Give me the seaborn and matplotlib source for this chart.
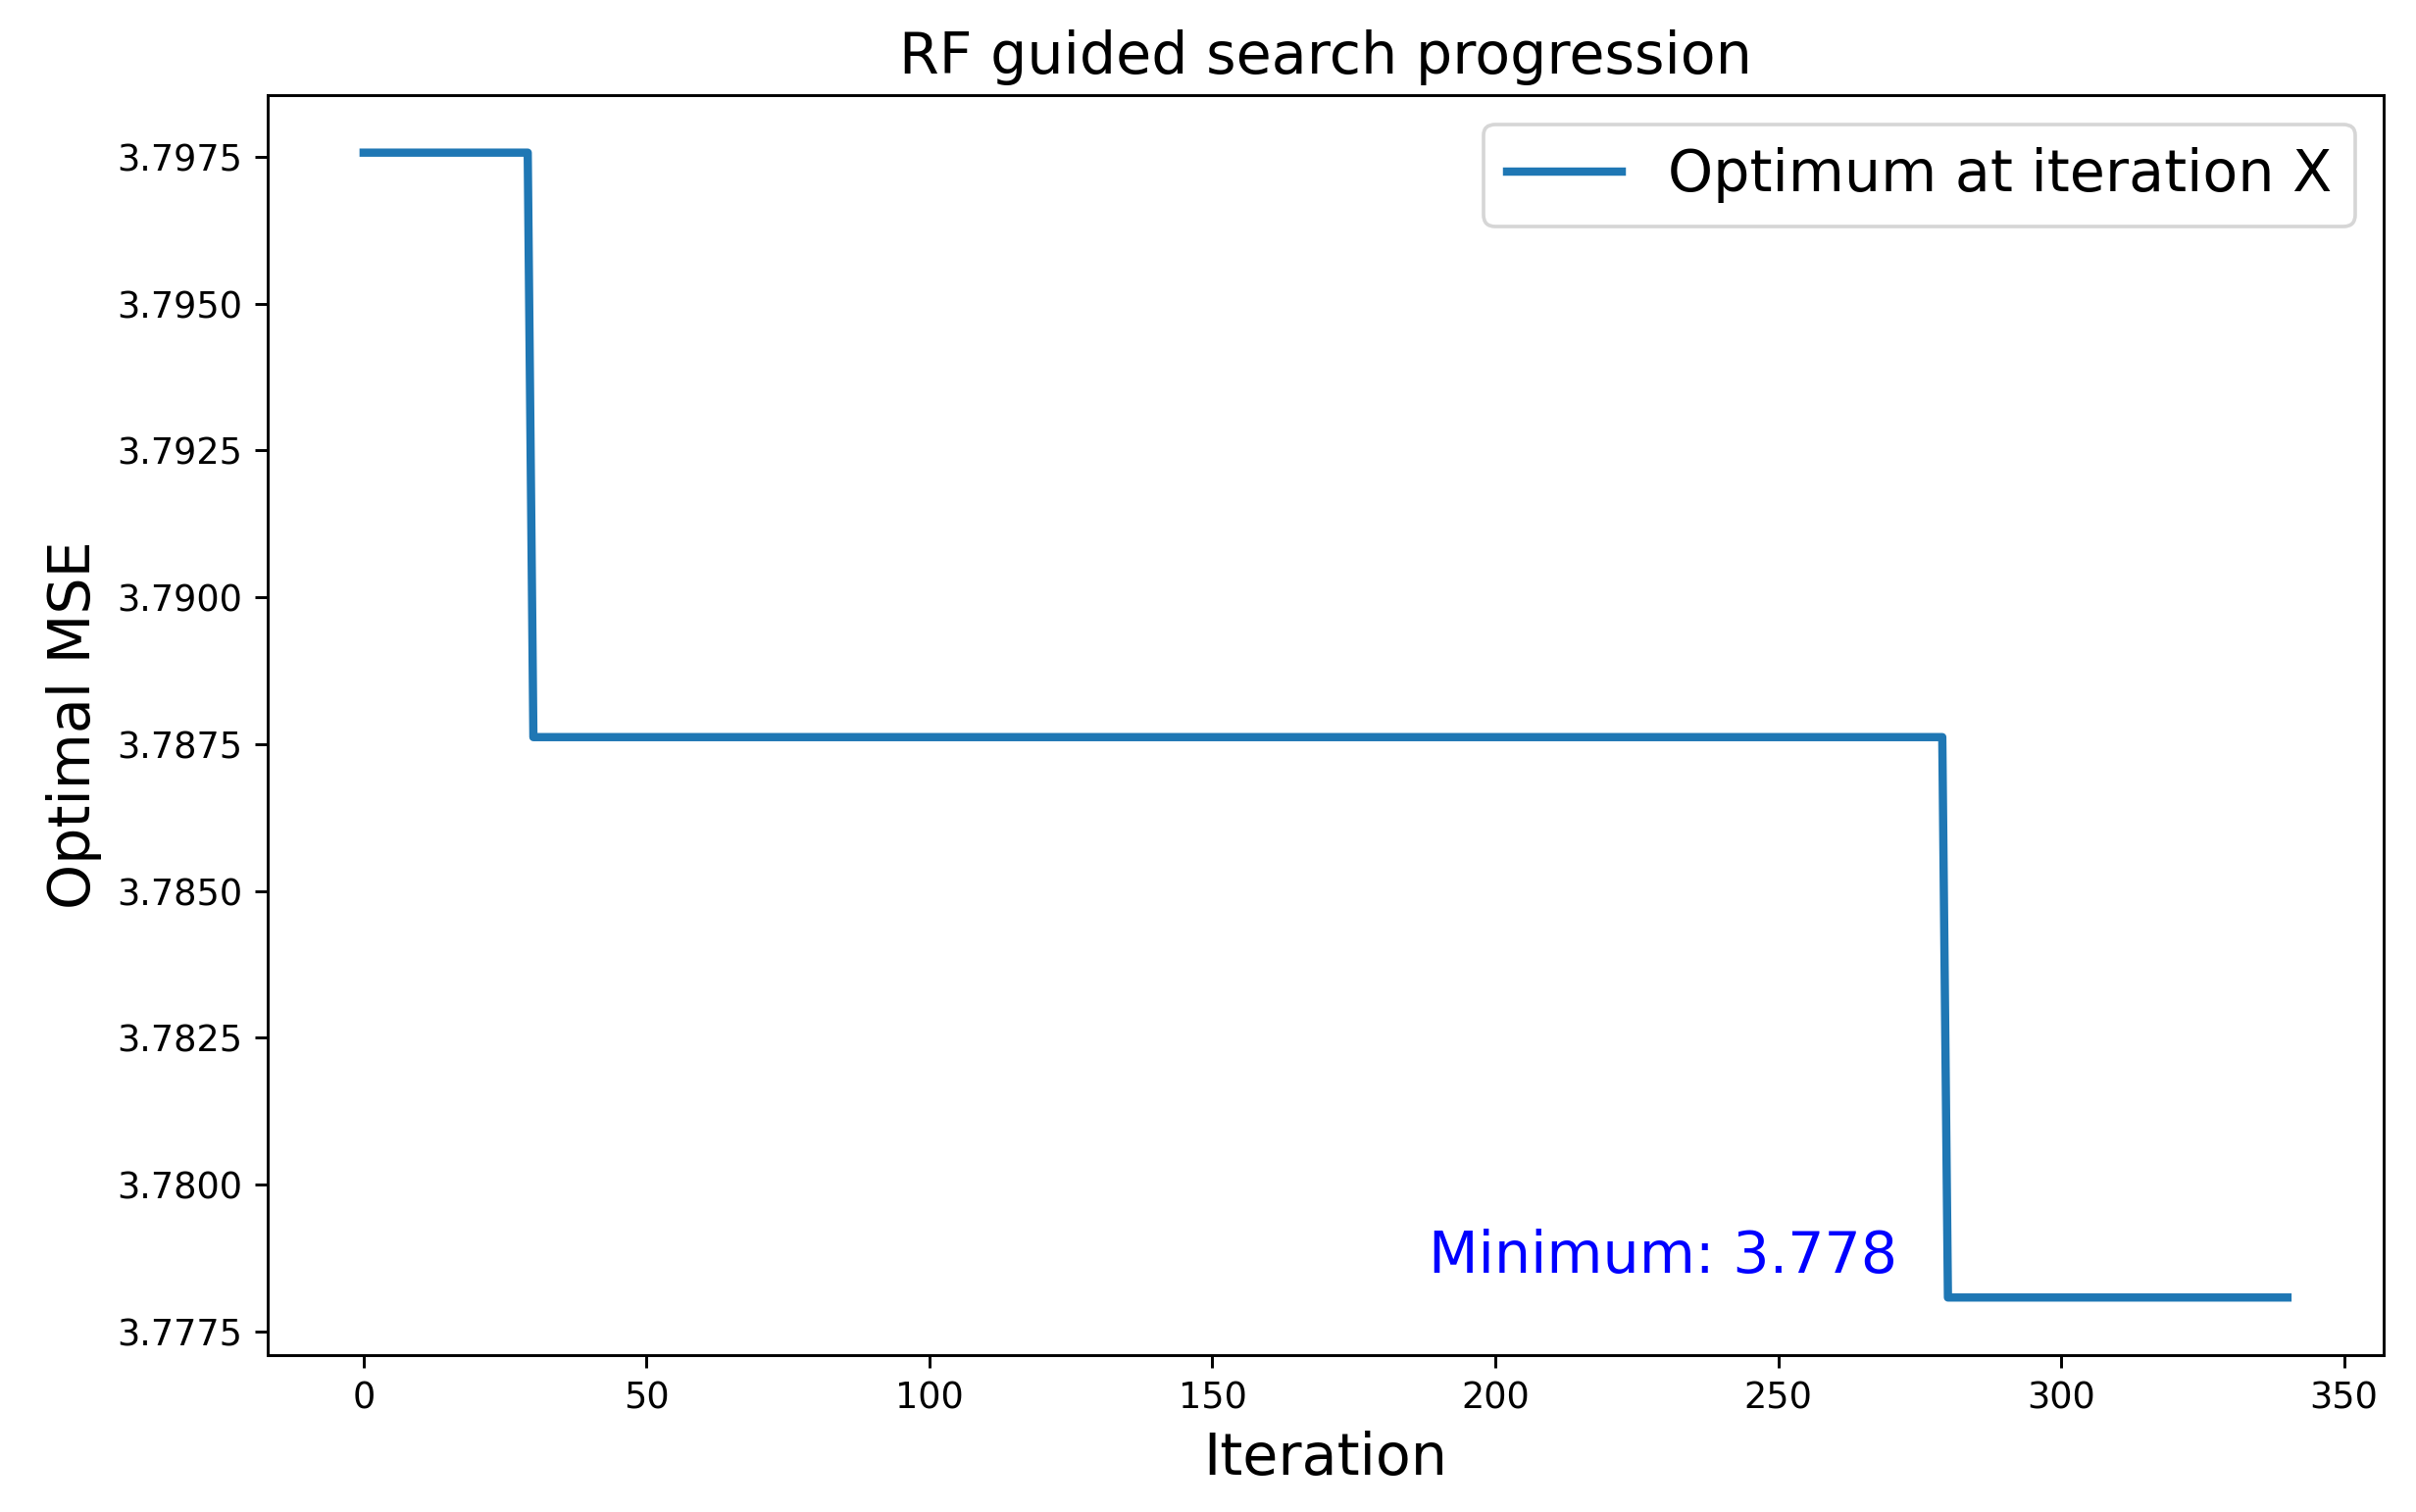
import numpy as np
import pandas as pd
import matplotlib
matplotlib.use("Agg")
import matplotlib.pyplot as plt
import seaborn as sns

# Data (best-so-far MSE, step changes)
iterations = [0, 29, 30, 279, 280, 340]
optimal_mse = [3.79757, 3.79757, 3.78762, 3.78762, 3.77808, 3.77808]
series_label = "Optimum at iteration X"
min_label = "Minimum: 3.778"
min_label_pos = (271, 3.7785)

plt.rcParams["font.family"] = ["DejaVu Sans"]

dpi = 264
fig = plt.figure(figsize=(2464 / dpi, 1542 / dpi), dpi=dpi)
ax = fig.add_axes([0.1107, 0.1040, 0.9866 - 0.1107, 0.9369 - 0.1040])

df = pd.DataFrame({"Iteration": iterations, "Optimal MSE": optimal_mse})
sns.lineplot(data=df, x="Iteration", y="Optimal MSE", ax=ax,
             color="#1f77b4", linewidth=2.3, label=series_label,
             estimator=None, sort=False)

ax.set_title("RF guided search progression", fontsize=16)
ax.set_xlabel("Iteration", fontsize=16)
ax.set_ylabel("Optimal MSE", fontsize=16)
ax.tick_params(labelsize=10)
ax.set_xticks([0, 50, 100, 150, 200, 250, 300, 350])
ax.set_yticks([3.7775, 3.7800, 3.7825, 3.7850, 3.7875, 3.7900, 3.7925, 3.7950, 3.7975])
ax.set_yticklabels([f"{v:.4f}" for v in ax.get_yticks()])

ax.text(min_label_pos[0], min_label_pos[1], min_label, color="blue",
        fontsize=16, ha="right", va="baseline")

ax.legend(loc="upper right", fontsize=16)

fig.savefig("out.png", dpi=dpi)
